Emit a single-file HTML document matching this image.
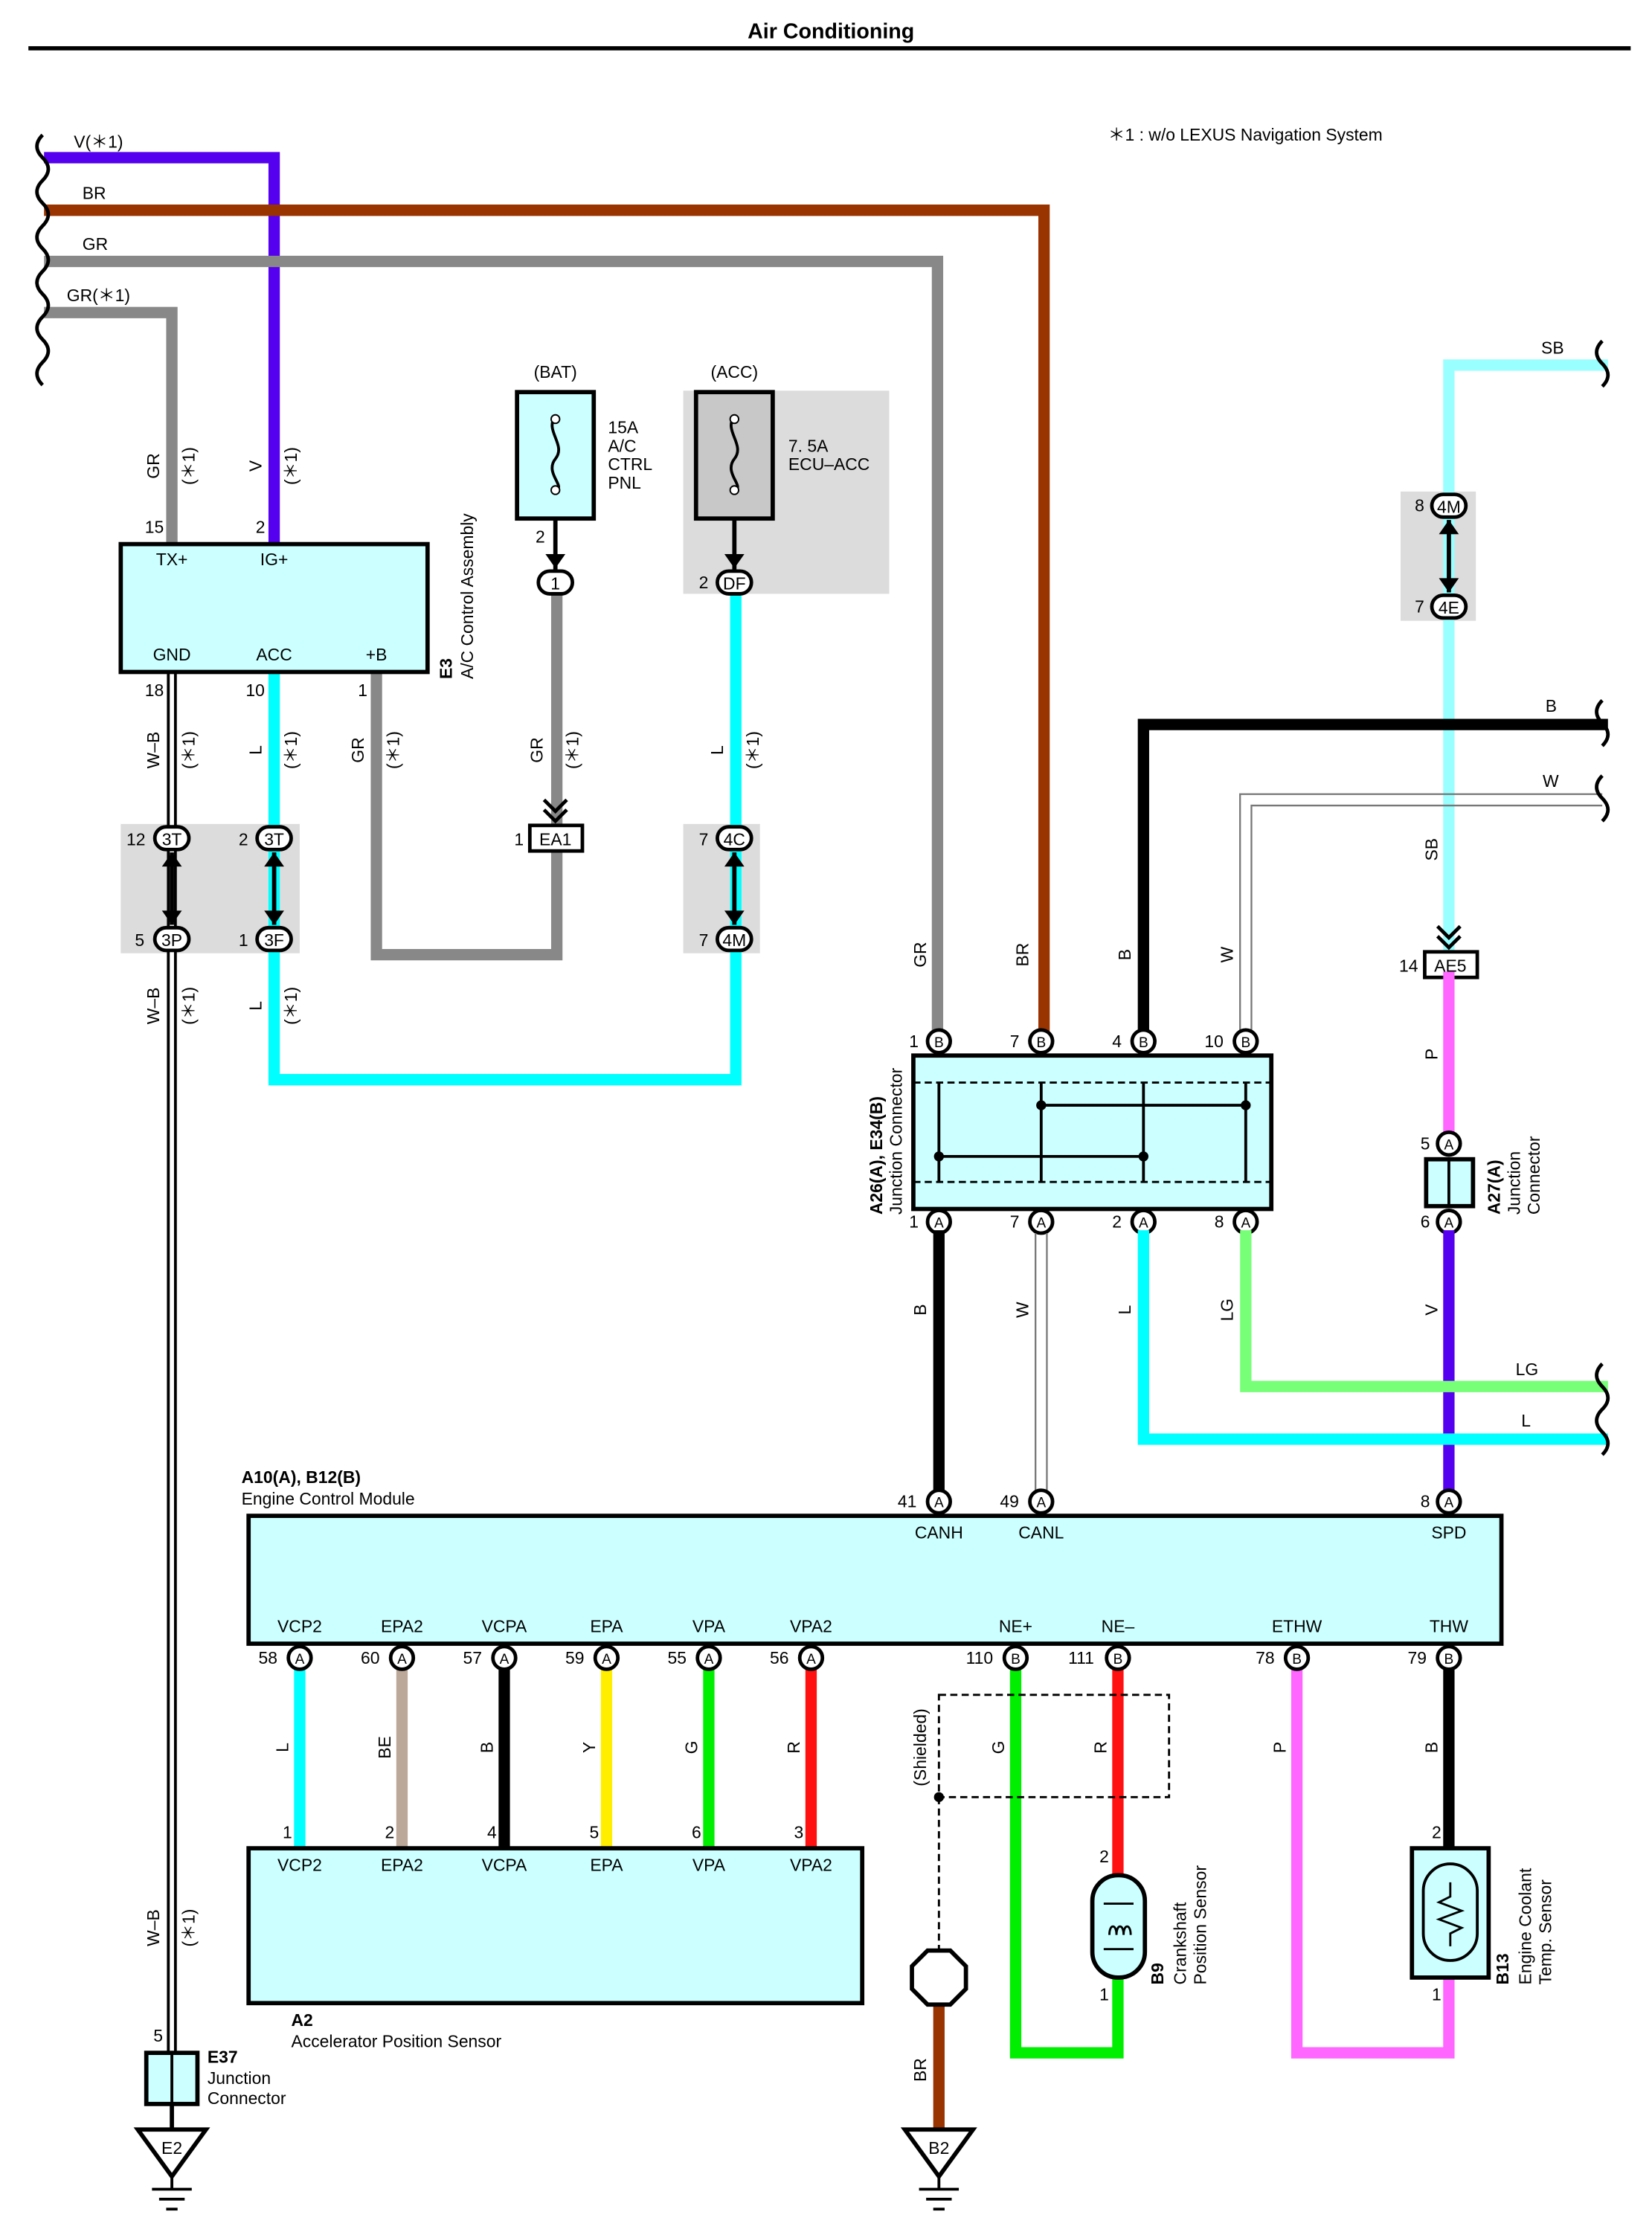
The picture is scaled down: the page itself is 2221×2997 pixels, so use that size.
<!DOCTYPE html>
<html><head><meta charset="utf-8"><style>
html,body{margin:0;padding:0;background:#fff}
svg{display:block}
text{font-family:"Liberation Sans",sans-serif;font-size:12px;fill:#000}
.c{text-anchor:middle}
.w{fill:none;stroke-width:8;stroke-linecap:square;stroke-linejoin:miter}
.p{fill:#fff;stroke:#000;stroke-width:2.5}
.b{fill:#ccffff;stroke:#000;stroke-width:3}
</style></head><body>
<svg width="2221" height="2997" viewBox="0 0 1163 1569" preserveAspectRatio="none" xmlns="http://www.w3.org/2000/svg">
<text x="585" y="27" class="c" style="font-size:15px;font-weight:bold">Air Conditioning</text>
<line x1="20" y1="34" x2="1148" y2="34" stroke="#000" stroke-width="3"/>
<text x="780" y="99">＊1 : w/o LEXUS Navigation System</text>

<!-- gray shaded connector areas -->
<rect x="85" y="580" width="126" height="91" fill="#dcdcdc"/>
<rect x="481" y="580" width="54" height="91" fill="#dcdcdc"/>
<rect x="481" y="275" width="145" height="143" fill="#dcdcdc"/>
<rect x="986" y="346" width="53" height="91" fill="#dcdcdc"/>

<!-- top wires -->
<path class="w" d="M35 111H193V383" stroke="#5500ee"/>
<path class="w" d="M35 148H735V733" stroke="#993300"/>
<path class="w" d="M35 184H660V733" stroke="#888"/>
<path class="w" d="M35 220H121V383" stroke="#888"/>
<path d="M30 95q-8 8 0 16q8 8 0 16q-8 8 0 16q8 8 0 16q-8 8 0 16q8 8 0 16q-8 8 0 16q8 8 0 16q-8 8 0 16q8 8 0 16q-8 8 0 16" fill="none" stroke="#000" stroke-width="2.5"/>
<text x="52" y="104">V(＊1)</text><text x="58" y="140">BR</text><text x="58" y="176">GR</text><text x="47" y="212">GR(＊1)</text>

<!-- E3 lower wires -->
<path d="M121 473V1445" stroke="#000" stroke-width="7" fill="none"/>
<path d="M121 473V1445" stroke="#fff" stroke-width="3" fill="none"/>
<path class="w" d="M193 473V760H518V410" stroke="#00ffff"/>
<path class="w" d="M265 473V672H392V410" stroke="#888"/>

<!-- E3 box -->
<rect class="b" x="85" y="383" width="216" height="90"/>
<text x="121" y="398" class="c">TX+</text><text x="193" y="398" class="c">IG+</text>
<text x="121" y="465" class="c">GND</text><text x="193" y="465" class="c">ACC</text><text x="265" y="465" class="c">+B</text>
<text x="102" y="375">15</text><text x="180" y="375">2</text>
<text x="102" y="490">18</text><text x="173" y="490">10</text><text x="252" y="490">1</text>
<text transform="rotate(-90 318 478)" x="318" y="478" style="font-weight:bold">E3</text>
<text transform="rotate(-90 333 478)" x="333" y="478">A/C Control Assembly</text>

<!-- vertical wire labels -->
<g>
<text transform="rotate(-90 112 328)" x="112" y="328" class="c">GR</text>
<text transform="rotate(-90 137 328)" x="137" y="328" class="c">(＊1)</text>
<text transform="rotate(-90 184 328)" x="184" y="328" class="c">V</text>
<text transform="rotate(-90 209 328)" x="209" y="328" class="c">(＊1)</text>
<text transform="rotate(-90 112 528)" x="112" y="528" class="c">W–B</text>
<text transform="rotate(-90 137 528)" x="137" y="528" class="c">(＊1)</text>
<text transform="rotate(-90 184 528)" x="184" y="528" class="c">L</text>
<text transform="rotate(-90 209 528)" x="209" y="528" class="c">(＊1)</text>
<text transform="rotate(-90 256 528)" x="256" y="528" class="c">GR</text>
<text transform="rotate(-90 281 528)" x="281" y="528" class="c">(＊1)</text>
<text transform="rotate(-90 382 528)" x="382" y="528" class="c">GR</text>
<text transform="rotate(-90 407 528)" x="407" y="528" class="c">(＊1)</text>
<text transform="rotate(-90 509 528)" x="509" y="528" class="c">L</text>
<text transform="rotate(-90 534 528)" x="534" y="528" class="c">(＊1)</text>
<text transform="rotate(-90 112 708)" x="112" y="708" class="c">W–B</text>
<text transform="rotate(-90 137 708)" x="137" y="708" class="c">(＊1)</text>
<text transform="rotate(-90 184 708)" x="184" y="708" class="c">L</text>
<text transform="rotate(-90 209 708)" x="209" y="708" class="c">(＊1)</text>
<text transform="rotate(-90 112 1357)" x="112" y="1357" class="c">W–B</text>
<text transform="rotate(-90 137 1357)" x="137" y="1357" class="c">(＊1)</text>
</g>

<!-- connectors 3T/3P/3F, 4C/4M -->
<g>
<rect class="p" x="109" y="582" width="24" height="16" rx="8"/><text x="121" y="595" class="c">3T</text>
<rect class="p" x="181" y="582" width="24" height="16" rx="8"/><text x="193" y="595" class="c">3T</text>
<rect class="p" x="109" y="653" width="24" height="16" rx="8"/><text x="121" y="666" class="c">3P</text>
<rect class="p" x="181" y="653" width="24" height="16" rx="8"/><text x="193" y="666" class="c">3F</text>
<rect class="p" x="505" y="582" width="24" height="16" rx="8"/><text x="517" y="595" class="c">4C</text>
<rect class="p" x="505" y="653" width="24" height="16" rx="8"/><text x="517" y="666" class="c">4M</text>
<text x="89" y="595">12</text><text x="168" y="595">2</text><text x="95" y="666">5</text><text x="168" y="666">1</text>
<text x="492" y="595">7</text><text x="492" y="666">7</text>
<path d="M121 600V651M193 600V651M517 600V651" stroke="#000" stroke-width="3"/>
<path d="M114 610l7-10 7 10zM114 641l7 10 7-10zM186 610l7-10 7 10zM186 641l7 10 7-10zM510 610l7-10 7 10zM510 641l7 10 7-10z"/>
</g>

<!-- fuses -->
<text x="391" y="266" class="c">(BAT)</text>
<rect class="b" x="364" y="276" width="54" height="89"/>
<path d="M391 293c-8 10 8 20 0 30s8 20 0 22" fill="none" stroke="#000" stroke-width="2"/>
<circle cx="391" cy="295" r="3" fill="#fff" stroke="#000"/><circle cx="391" cy="345" r="3" fill="#fff" stroke="#000"/>
<text x="428" y="305">15A</text><text x="428" y="318">A/C</text><text x="428" y="331">CTRL</text><text x="428" y="344">PNL</text>
<path d="M391 365V402" stroke="#000" stroke-width="3"/><path d="M384 390l7 10 7-10z"/>
<text x="377" y="382">2</text>
<rect class="p" x="379" y="402" width="24" height="16" rx="8"/><text x="391" y="415" class="c">1</text>

<text x="517" y="266" class="c">(ACC)</text>
<rect x="490" y="276" width="54" height="89" fill="#c8c8c8" stroke="#000" stroke-width="3"/>
<path d="M517 293c-8 10 8 20 0 30s8 20 0 22" fill="none" stroke="#000" stroke-width="2"/>
<circle cx="517" cy="295" r="3" fill="#fff" stroke="#000"/><circle cx="517" cy="345" r="3" fill="#fff" stroke="#000"/>
<text x="555" y="318">7. 5A</text><text x="555" y="331">ECU–ACC</text>
<path d="M517 365V402" stroke="#000" stroke-width="3"/><path d="M510 390l7 10 7-10z"/>
<text x="492" y="414">2</text>
<rect class="p" x="505" y="402" width="24" height="16" rx="8"/><text x="517" y="415" class="c">DF</text>

<!-- EA1 -->
<rect x="373" y="581" width="37" height="18" fill="#fff" stroke="#000" stroke-width="2.5"/><text x="391" y="595" class="c">EA1</text>
<text x="362" y="595">1</text>
<path d="M383 563l8 8 8-8M383 570l8 8 8-8" fill="none" stroke="#000" stroke-width="2.5"/>

<!-- right side SB -->
<path class="w" d="M1128 257H1020V668" stroke="#99ffff"/>
<text x="1085" y="249">SB</text>
<path d="M1128 240q-8 8 0 16q8 8 0 16" fill="none" stroke="#000" stroke-width="2.5"/>
<rect class="p" x="1008" y="348" width="24" height="16" rx="8"/><text x="1020" y="361" class="c">4M</text>
<rect class="p" x="1008" y="419" width="24" height="16" rx="8"/><text x="1020" y="432" class="c">4E</text>
<text x="996" y="360">8</text><text x="996" y="431">7</text>
<path d="M1020 366V417" stroke="#000" stroke-width="3"/>
<path d="M1013 376l7-10 7 10zM1013 407l7 10 7-10z"/>
<text transform="rotate(-90 1012 598)" x="1012" y="598" class="c">SB</text>
<path d="M1012 652l8 8 8-8M1012 659l8 8 8-8" fill="none" stroke="#000" stroke-width="2.5"/>
<rect x="1003" y="670" width="37" height="18" fill="#fff" stroke="#000" stroke-width="2.5"/><text x="1021" y="684" class="c">AE5</text>
<text x="985" y="684">14</text>
<path class="w" d="M1020 688V797" stroke="#ff66ff"/>
<text transform="rotate(-90 1012 742)" x="1012" y="742" class="c">P</text>
<circle class="p" cx="1020" cy="805" r="8"/><text x="1020" y="809" class="c" style="font-size:10px">A</text>
<text x="1000" y="809">5</text>
<rect class="b" x="1004" y="816" width="33" height="33"/><line x1="1020" y1="816" x2="1020" y2="849" stroke="#000" stroke-width="2"/>
<circle class="p" cx="1020" cy="860" r="8"/><text x="1020" y="864" class="c" style="font-size:10px">A</text>
<text x="1000" y="864">6</text>
<path class="w" d="M1020 870V1049" stroke="#5500ee"/>
<text transform="rotate(-90 1012 922)" x="1012" y="922" class="c">V</text>
<text transform="rotate(-90 1056 855)" x="1056" y="855" style="font-weight:bold">A27(A)</text>
<text transform="rotate(-90 1070 855)" x="1070" y="855">Junction</text>
<text transform="rotate(-90 1084 855)" x="1084" y="855">Connector</text>

<!-- B and W wires -->
<path class="w" d="M1128 510H805V733" stroke="#000"/>
<text x="1088" y="501">B</text>
<path d="M1128 493q-8 8 0 16q8 8 0 16" fill="none" stroke="#000" stroke-width="2.5"/>
<path d="M1128 559H873V733M1128 567H881V733" fill="none" stroke="#777" stroke-width="1.2"/>
<text x="1086" y="554">W</text>
<path d="M1128 546q-8 8 0 16q8 8 0 16" fill="none" stroke="#000" stroke-width="2.5"/>
<text transform="rotate(-90 652 672)" x="652" y="672" class="c">GR</text>
<text transform="rotate(-90 724 672)" x="724" y="672" class="c">BR</text>
<text transform="rotate(-90 796 672)" x="796" y="672" class="c">B</text>
<text transform="rotate(-90 868 672)" x="868" y="672" class="c">W</text>

<!-- junction connector -->
<rect class="b" x="643" y="743" width="252" height="108"/>
<path d="M643 762H895M643 832H895" stroke="#000" stroke-width="1.5" stroke-dasharray="5 3"/>
<path d="M661 762V832M733 762V832M805 762V832M877 762V832M733 778H877M661 814H805" stroke="#000" stroke-width="2"/>
<circle cx="733" cy="778" r="3.5"/><circle cx="877" cy="778" r="3.5"/><circle cx="805" cy="814" r="3.5"/><circle cx="661" cy="814" r="3.5"/>
<g style="font-size:10px">
<circle class="p" cx="661" cy="733" r="8"/><text x="661" y="737" class="c" style="font-size:10px">B</text>
<circle class="p" cx="733" cy="733" r="8"/><text x="733" y="737" class="c" style="font-size:10px">B</text>
<circle class="p" cx="805" cy="733" r="8"/><text x="805" y="737" class="c" style="font-size:10px">B</text>
<circle class="p" cx="877" cy="733" r="8"/><text x="877" y="737" class="c" style="font-size:10px">B</text>
<circle class="p" cx="661" cy="860" r="8"/><text x="661" y="864" class="c" style="font-size:10px">A</text>
<circle class="p" cx="733" cy="860" r="8"/><text x="733" y="864" class="c" style="font-size:10px">A</text>
<circle class="p" cx="805" cy="860" r="8"/><text x="805" y="864" class="c" style="font-size:10px">A</text>
<circle class="p" cx="877" cy="860" r="8"/><text x="877" y="864" class="c" style="font-size:10px">A</text>
</g>
<text x="640" y="737">1</text><text x="711" y="737">7</text><text x="783" y="737">4</text><text x="848" y="737">10</text>
<text x="640" y="864">1</text><text x="711" y="864">7</text><text x="783" y="864">2</text><text x="855" y="864">8</text>
<text transform="rotate(-90 621 855)" x="621" y="855" style="font-weight:bold">A26(A), E34(B)</text>
<text transform="rotate(-90 635 855)" x="635" y="855">Junction Connector</text>

<!-- below junction -->
<path class="w" d="M661 870V1049" stroke="#000"/>
<path d="M729 868V1049M737 868V1049" fill="none" stroke="#777" stroke-width="1.2"/>
<path class="w" d="M805 870V1013H1128" stroke="#00ffff"/>
<path class="w" d="M877 870V976H1128" stroke="#77ff77"/>
<path d="M1128 960q-8 8 0 16q8 8 0 16q-8 8 0 16q8 8 0 16" fill="none" stroke="#000" stroke-width="2.5"/>
<text x="1067" y="968">LG</text><text x="1071" y="1004">L</text>
<text transform="rotate(-90 652 922)" x="652" y="922" class="c">B</text>
<text transform="rotate(-90 724 922)" x="724" y="922" class="c">W</text>
<text transform="rotate(-90 796 922)" x="796" y="922" class="c">L</text>
<text transform="rotate(-90 868 922)" x="868" y="922" class="c">LG</text>

<!-- ECM -->
<text x="170" y="1044" style="font-weight:bold">A10(A), B12(B)</text>
<text x="170" y="1059">Engine Control Module</text>
<rect class="b" x="175" y="1067" width="882" height="90"/>
<circle class="p" cx="661" cy="1057" r="8"/><text x="661" y="1061" class="c" style="font-size:10px">A</text>
<circle class="p" cx="733" cy="1057" r="8"/><text x="733" y="1061" class="c" style="font-size:10px">A</text>
<circle class="p" cx="1020" cy="1057" r="8"/><text x="1020" y="1061" class="c" style="font-size:10px">A</text>
<text x="632" y="1061">41</text><text x="704" y="1061">49</text><text x="1000" y="1061">8</text>
<text x="661" y="1083" class="c">CANH</text><text x="733" y="1083" class="c">CANL</text><text x="1020" y="1083" class="c">SPD</text>
<g class="c">
<text x="211" y="1149" class="c">VCP2</text><text x="283" y="1149" class="c">EPA2</text><text x="355" y="1149" class="c">VCPA</text>
<text x="427" y="1149" class="c">EPA</text><text x="499" y="1149" class="c">VPA</text><text x="571" y="1149" class="c">VPA2</text>
<text x="715" y="1149" class="c">NE+</text><text x="787" y="1149" class="c">NE–</text><text x="913" y="1149" class="c">ETHW</text><text x="1020" y="1149" class="c">THW</text>
</g>

<!-- ECM to A2 wires -->
<path class="w" d="M211 1177V1301" stroke="#00ffff"/>
<path class="w" d="M283 1177V1301" stroke="#bba898"/>
<path class="w" d="M355 1177V1301" stroke="#000"/>
<path class="w" d="M427 1177V1301" stroke="#ffee00"/>
<path class="w" d="M499 1177V1301" stroke="#00ee00"/>
<path class="w" d="M571 1177V1301" stroke="#ff1111"/>
<path class="w" d="M715 1177V1445H787V1392" stroke="#00ee00"/>
<path class="w" d="M787 1177V1320" stroke="#ff1111"/>
<path class="w" d="M913 1177V1445H1020V1392" stroke="#ff66ff"/>
<path class="w" d="M1020 1177V1301" stroke="#000"/>
<path class="w" d="M661 1408V1500" stroke="#993300"/>

<g>
<circle class="p" cx="211" cy="1167" r="8"/><text x="211" y="1171" class="c" style="font-size:10px">A</text>
<circle class="p" cx="283" cy="1167" r="8"/><text x="283" y="1171" class="c" style="font-size:10px">A</text>
<circle class="p" cx="355" cy="1167" r="8"/><text x="355" y="1171" class="c" style="font-size:10px">A</text>
<circle class="p" cx="427" cy="1167" r="8"/><text x="427" y="1171" class="c" style="font-size:10px">A</text>
<circle class="p" cx="499" cy="1167" r="8"/><text x="499" y="1171" class="c" style="font-size:10px">A</text>
<circle class="p" cx="571" cy="1167" r="8"/><text x="571" y="1171" class="c" style="font-size:10px">A</text>
<circle class="p" cx="715" cy="1167" r="8"/><text x="715" y="1171" class="c" style="font-size:10px">B</text>
<circle class="p" cx="787" cy="1167" r="8"/><text x="787" y="1171" class="c" style="font-size:10px">B</text>
<circle class="p" cx="913" cy="1167" r="8"/><text x="913" y="1171" class="c" style="font-size:10px">B</text>
<circle class="p" cx="1020" cy="1167" r="8"/><text x="1020" y="1171" class="c" style="font-size:10px">B</text>
</g>
<text x="182" y="1171">58</text><text x="254" y="1171">60</text><text x="326" y="1171">57</text><text x="398" y="1171">59</text>
<text x="470" y="1171">55</text><text x="542" y="1171">56</text><text x="680" y="1171">110</text><text x="752" y="1171">111</text>
<text x="884" y="1171">78</text><text x="991" y="1171">79</text>

<text transform="rotate(-90 203 1230)" x="203" y="1230" class="c">L</text>
<text transform="rotate(-90 275 1230)" x="275" y="1230" class="c">BE</text>
<text transform="rotate(-90 347 1230)" x="347" y="1230" class="c">B</text>
<text transform="rotate(-90 419 1230)" x="419" y="1230" class="c">Y</text>
<text transform="rotate(-90 491 1230)" x="491" y="1230" class="c">G</text>
<text transform="rotate(-90 563 1230)" x="563" y="1230" class="c">R</text>
<text transform="rotate(-90 707 1230)" x="707" y="1230" class="c">G</text>
<text transform="rotate(-90 779 1230)" x="779" y="1230" class="c">R</text>
<text transform="rotate(-90 905 1230)" x="905" y="1230" class="c">P</text>
<text transform="rotate(-90 1012 1230)" x="1012" y="1230" class="c">B</text>
<text transform="rotate(-90 652 1230)" x="652" y="1230" class="c">(Shielded)</text>

<text x="199" y="1294">1</text><text x="271" y="1294">2</text><text x="343" y="1294">4</text>
<text x="415" y="1294">5</text><text x="487" y="1294">6</text><text x="559" y="1294">3</text>

<!-- A2 -->
<rect class="b" x="175" y="1301" width="432" height="109"/>
<text x="211" y="1317" class="c">VCP2</text><text x="283" y="1317" class="c">EPA2</text><text x="355" y="1317" class="c">VCPA</text>
<text x="427" y="1317" class="c">EPA</text><text x="499" y="1317" class="c">VPA</text><text x="571" y="1317" class="c">VPA2</text>
<text x="205" y="1426" style="font-weight:bold">A2</text>
<text x="205" y="1441">Accelerator Position Sensor</text>

<!-- shield -->
<rect x="661" y="1193" width="162" height="72" fill="none" stroke="#000" stroke-width="1.5" stroke-dasharray="5 3"/>
<path d="M661 1265V1375" stroke="#000" stroke-width="1.5" stroke-dasharray="5 3"/>
<circle cx="661" cy="1265" r="3.5"/>
<polygon points="653,1373 669,1373 680,1384 680,1400 669,1411 653,1411 642,1400 642,1384" fill="#fff" stroke="#000" stroke-width="3"/>
<text transform="rotate(-90 652 1457)" x="652" y="1457" class="c">BR</text>

<!-- crankshaft -->
<rect class="b" x="769" y="1320" width="37" height="72" rx="18"/>
<path d="M777 1340h21M777 1372h21" stroke="#000" stroke-width="1.5"/>
<path d="M781 1362c0-8 5-8 5 0c0-8 5-8 5 0c0-8 5-8 5 0" fill="none" stroke="#000" stroke-width="1.5"/>
<text x="774" y="1311">2</text><text x="774" y="1408">1</text>
<text transform="rotate(-90 819 1397)" x="819" y="1397" style="font-weight:bold">B9</text>
<text transform="rotate(-90 835 1397)" x="835" y="1397">Crankshaft</text>
<text transform="rotate(-90 849 1397)" x="849" y="1397">Position Sensor</text>

<!-- B13 -->
<rect class="b" x="994" y="1301" width="54" height="91"/>
<rect x="1002" y="1312" width="38" height="68" rx="19" fill="none" stroke="#000" stroke-width="2"/>
<path d="M1021 1325V1335l-8 4 16 6-16 6 16 6-8 4V1370" fill="none" stroke="#000" stroke-width="1.5"/>
<text x="1008" y="1294">2</text><text x="1008" y="1408">1</text>
<text transform="rotate(-90 1062 1397)" x="1062" y="1397" style="font-weight:bold">B13</text>
<text transform="rotate(-90 1078 1397)" x="1078" y="1397">Engine Coolant</text>
<text transform="rotate(-90 1092 1397)" x="1092" y="1397">Temp.  Sensor</text>

<!-- E37 -->
<text x="108" y="1437">5</text>
<rect class="b" x="103" y="1445" width="36" height="36"/><line x1="121" y1="1445" x2="121" y2="1481" stroke="#000" stroke-width="2"/>
<path d="M121 1481V1499" stroke="#000" stroke-width="3"/>
<text x="146" y="1452" style="font-weight:bold">E37</text>
<text x="146" y="1467">Junction</text><text x="146" y="1481">Connector</text>

<!-- grounds -->
<polygon points="97,1499 145,1499 121,1532" fill="#fff" stroke="#000" stroke-width="3"/>
<text x="121" y="1516" class="c">E2</text>
<path d="M121 1532V1541M107 1541H135M112 1548H130M117 1555H125" stroke="#000" stroke-width="2"/>
<polygon points="637,1499 685,1499 661,1532" fill="#fff" stroke="#000" stroke-width="3"/>
<text x="661" y="1516" class="c">B2</text>
<path d="M661 1532V1541M647 1541H675M652 1548H670M657 1555H665" stroke="#000" stroke-width="2"/>
</svg>
</body></html>
